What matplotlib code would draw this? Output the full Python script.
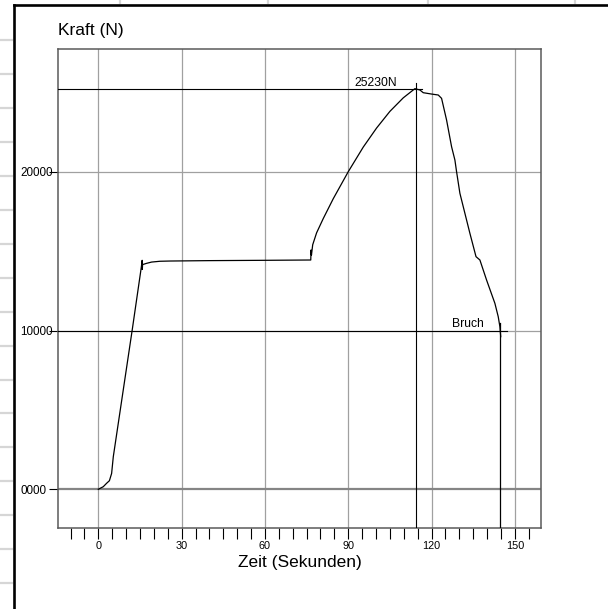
import matplotlib
matplotlib.use("Agg")
import matplotlib.pyplot as plt
from matplotlib.lines import Line2D

plt.rcParams['font.family'] = ['Liberation Sans', 'DejaVu Sans']

# ---- data ----
time_s = [0, 1.8, 3.0, 4.0, 4.8, 5.4, 12.25, 15.5, 15.8, 15.85, 15.95, 17.4, 19.2,
          22.2, 25.8, 40, 60, 76.5, 76.6, 76.75, 77.2, 78.6, 81.0, 84.6, 90.0,
          95.4, 100.2, 105.0, 109.8, 114.0, 115.8, 117.0, 120.0, 122.4, 123.6,
          125.4, 127.2, 128.4, 129.0, 130.2, 132.0, 133.8, 136.0, 137.4, 139.8,
          142.8, 144.0, 144.6, 144.9]
force_N = [0, 165, 380, 540, 1000, 2050, 10080, 14000, 14420, 13850, 14150, 14230,
           14310, 14360, 14375, 14400, 14420, 14440, 15070, 14750, 15400, 16150,
           17050, 18300, 20000, 21550, 22750, 23800, 24650, 25230, 25145, 24975,
           24890, 24830, 24620, 23255, 21575, 20735, 20000, 18640, 17380, 16120,
           14650, 14440, 13180, 11710, 10870, 10240, 9610]

peak_time = 114.3
peak_force = 25230
peak_label = "25230N"
break_time = 144.7
break_force = 10000
break_label = "Bruch"

x_major = [0, 30, 60, 90, 120, 150]
x_minor = [-10, -5, 5, 10, 15, 20, 25, 35, 40, 45, 50, 55, 65, 70, 75, 80, 85,
           95, 100, 105, 110, 115, 125, 130, 135, 140, 145, 155]
y_ticks = [0, 10000, 20000]
y_ticklabels = ["0000", "10000", "20000"]
x_title = "Zeit (Sekunden)"
y_title = "Kraft (N)"

W, H = 608, 609
fig = plt.figure(figsize=(W / 100, H / 100), dpi=100)
fig.patch.set_facecolor("white")

# background spreadsheet cell lines and frame
for k in range(17):
    yy = 40 + 33.95 * k
    fig.add_artist(Line2D([0, 12 / W], [1 - yy / H, 1 - yy / H],
                          color="#d6d6d6", lw=1.6, transform=fig.transFigure))
for xx in [120, 268, 428, 575]:
    fig.add_artist(Line2D([xx / W, xx / W], [1, 1 - 3 / H],
                          color="#d6d6d6", lw=1.6, transform=fig.transFigure))
fig.add_artist(Line2D([13.5 / W, 13.5 / W], [0, 1 - 4.5 / H], color="black",
                      lw=1.9, transform=fig.transFigure))
fig.add_artist(Line2D([13.5 / W, 1], [1 - 4.5 / H, 1 - 4.5 / H], color="black",
                      lw=1.9, transform=fig.transFigure))

L, R, T, B = 58.3, 541.0, 49.0, 528.3
ax = fig.add_axes([L / W, 1 - B / H, (R - L) / W, (B - T) / H])
ax.set_xlim(-14.4, 159.4)
ax.set_ylim(-2456, 27727)

# grid
for xv in x_major:
    ax.axvline(xv, color="#a0a0a0", lw=0.9, zorder=1)
for yv in y_ticks:
    if yv == 0:
        ax.axhline(yv, color="#858585", lw=1.6, zorder=1)
    else:
        ax.axhline(yv, color="#a0a0a0", lw=0.9, zorder=1)

# markers for peak and break
ax.plot([-14.4, 116.4], [peak_force, peak_force], color="black", lw=0.8, zorder=3)
ax.plot([peak_time, peak_time], [-2456, 25610], color="black", lw=0.8, zorder=3)
ax.plot([-14.4, 147.0], [break_force, break_force], color="black", lw=0.8, zorder=3)
ax.plot([break_time, break_time], [-2456, 10500], color="black", lw=0.9, zorder=3)
ax.text(92.4, 25400, peak_label, fontsize=8.7, ha="left", va="baseline")
ax.text(127.2, 10220, break_label, fontsize=8.7, ha="left", va="baseline")

# curve
ax.plot(time_s, force_N, color="black", lw=0.9, zorder=4)

# ticks
ax.set_xticks(x_major)
ax.set_xticklabels([str(v) for v in x_major])
ax.set_xticks(x_minor, minor=True)
ax.tick_params(axis="x", which="both", direction="out", length=8.0, width=0.8,
               color="black", labelsize=7.8, pad=1.5)
ax.set_yticks(y_ticks)
ax.set_yticklabels(y_ticklabels)
ax.tick_params(axis="y", which="both", direction="out", length=6.8, width=0.8,
               color="black", labelsize=8.4, pad=20.6)
for lab in ax.get_yticklabels():
    lab.set_horizontalalignment("left")

for sp in ax.spines.values():
    sp.set_color("#5a5a5a")
    sp.set_linewidth(1.1)

ax.set_xlabel(x_title, fontsize=12.5)
ax.xaxis.label.set_va("center")
ax.xaxis.set_label_coords(0.5, (B - 562) / (B - T))
ax.set_ylabel(y_title, fontsize=12.5, rotation=0, ha="left", va="center")
ax.yaxis.set_label_coords(0.0, (B - 31) / (B - T))

fig.savefig("out.png", dpi=100)
